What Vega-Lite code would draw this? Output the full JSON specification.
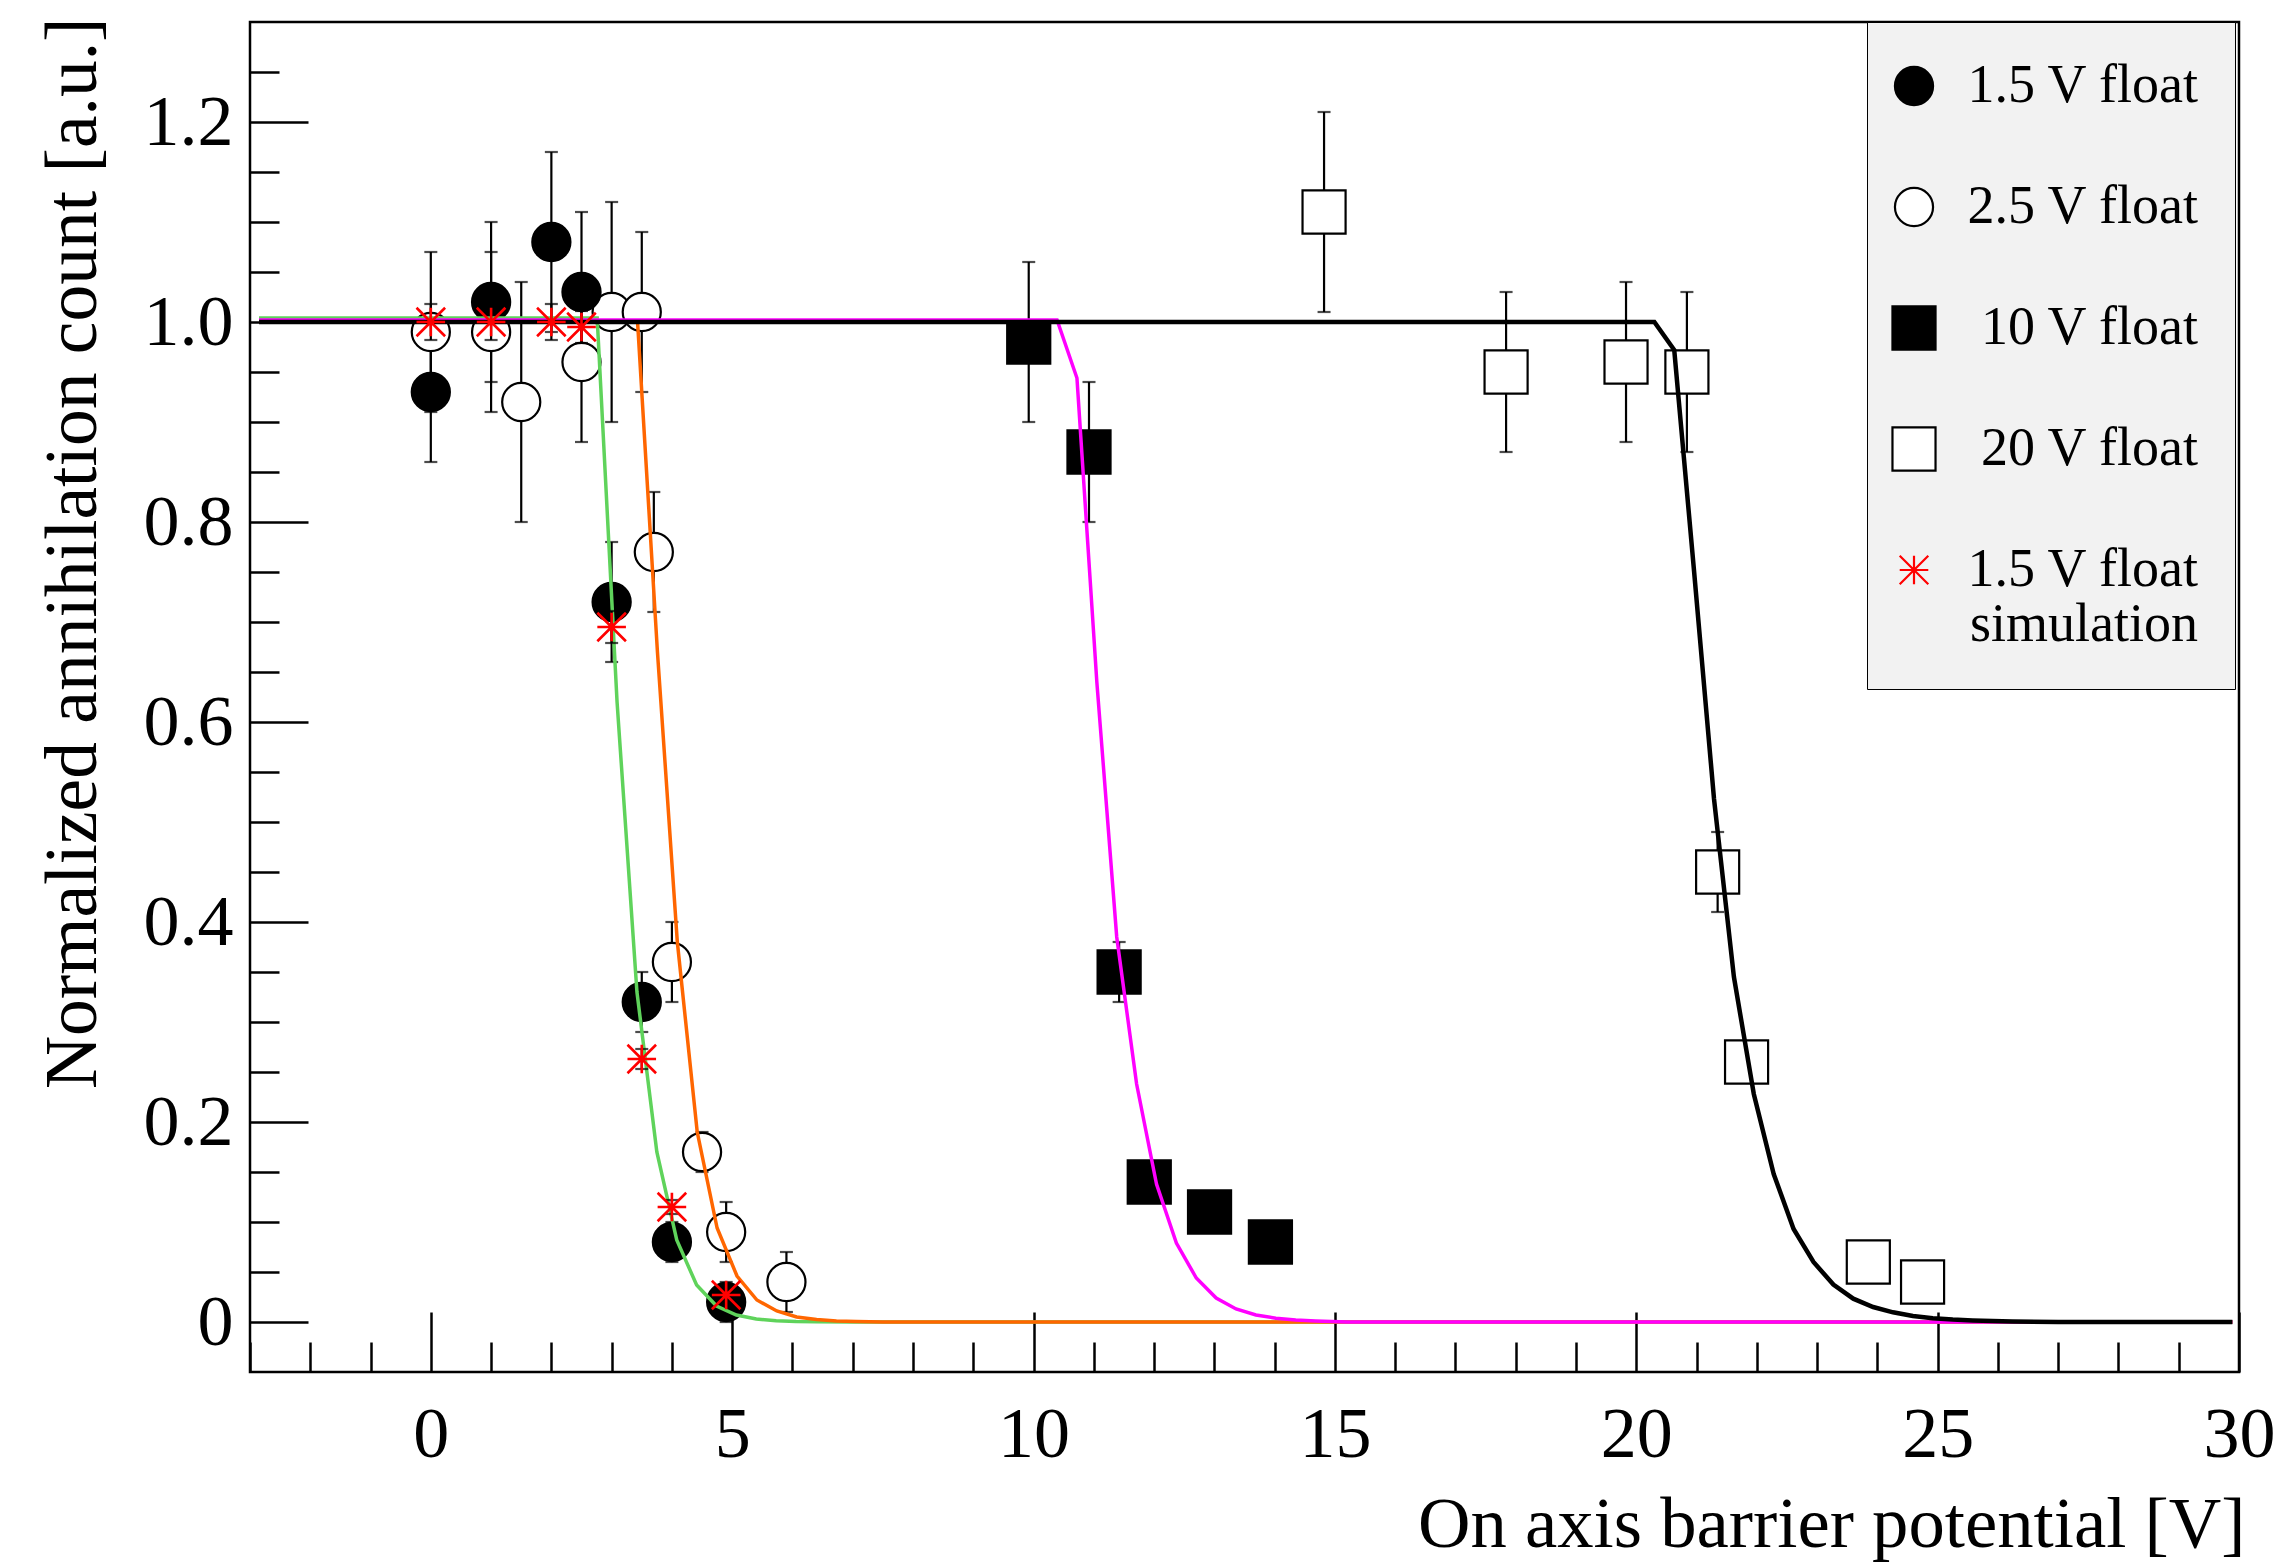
{
  "$schema": "https://vega.github.io/schema/vega-lite/v6.json",
  "width": 1989,
  "height": 1350,
  "autosize": {"type": "none"},
  "padding": {"left": 250, "top": 22, "right": 45, "bottom": 194},
  "background": "white",
  "config": {
    "view": {"stroke": "black", "strokeWidth": 2.5},
    "font": "Liberation Serif",
    "axis": {
      "grid": false, "domain": false,
      "labelFont": "Liberation Serif", "labelFontSize": 72, "labelColor": "black",
      "titleFont": "Liberation Serif", "titleFontSize": 73.5, "titleFontWeight": "normal", "titleColor": "black",
      "tickColor": "black", "tickWidth": 2.5, "labelOverlap": false, "labelFlush": false, "labelBound": false
    },
    "legend": {
      "orient": "none", "legendX": 1617, "legendY": 0, "title": null,
      "fillColor": "#f2f2f2", "strokeColor": "black", "padding": 37,
      "labelFont": "Liberation Serif", "labelFontSize": 54, "labelColor": "black",
      "labelAlign": "right", "labelOffset": 257, "symbolOffset": -17,
      "rowPadding": 67, "symbolSize": 1452, "symbolStrokeWidth": 2.2, "labelLimit": 600
    },
    "style": {"guide-label": {"lineHeight": 55}}
  },
  "datasets": {
    "pts": [
      {"s": "2.5 V float", "x": 0, "y": 0.99, "lo": 0.91, "hi": 1.07},
      {"s": "2.5 V float", "x": 1, "y": 0.99, "lo": 0.91, "hi": 1.07},
      {"s": "2.5 V float", "x": 1.5, "y": 0.92, "lo": 0.80, "hi": 1.04},
      {"s": "2.5 V float", "x": 2.5, "y": 0.96, "lo": 0.88, "hi": 1.04},
      {"s": "2.5 V float", "x": 3, "y": 1.01, "lo": 0.90, "hi": 1.12},
      {"s": "2.5 V float", "x": 3.5, "y": 1.01, "lo": 0.93, "hi": 1.09},
      {"s": "2.5 V float", "x": 3.7, "y": 0.77, "lo": 0.71, "hi": 0.83},
      {"s": "2.5 V float", "x": 4, "y": 0.36, "lo": 0.32, "hi": 0.40},
      {"s": "2.5 V float", "x": 4.5, "y": 0.17, "lo": 0.15, "hi": 0.19},
      {"s": "2.5 V float", "x": 4.9, "y": 0.09, "lo": 0.06, "hi": 0.12},
      {"s": "2.5 V float", "x": 5.9, "y": 0.04, "lo": 0.01, "hi": 0.07},
      {"s": "20 V float", "x": 14.82, "y": 1.11, "lo": 1.01, "hi": 1.21},
      {"s": "20 V float", "x": 17.84, "y": 0.95, "lo": 0.87, "hi": 1.03},
      {"s": "20 V float", "x": 19.83, "y": 0.96, "lo": 0.88, "hi": 1.04},
      {"s": "20 V float", "x": 20.84, "y": 0.95, "lo": 0.87, "hi": 1.03},
      {"s": "20 V float", "x": 21.35, "y": 0.45, "lo": 0.41, "hi": 0.49},
      {"s": "20 V float", "x": 21.83, "y": 0.26, "lo": 0.25, "hi": 0.27},
      {"s": "20 V float", "x": 23.85, "y": 0.06, "lo": 0.05, "hi": 0.07},
      {"s": "20 V float", "x": 24.75, "y": 0.04, "lo": 0.03, "hi": 0.05},
      {"s": "1.5 V float", "x": 0, "y": 0.93, "lo": 0.86, "hi": 1.00},
      {"s": "1.5 V float", "x": 1, "y": 1.02, "lo": 0.94, "hi": 1.10},
      {"s": "1.5 V float", "x": 2, "y": 1.08, "lo": 0.99, "hi": 1.17},
      {"s": "1.5 V float", "x": 2.5, "y": 1.03, "lo": 0.95, "hi": 1.11},
      {"s": "1.5 V float", "x": 3, "y": 0.72, "lo": 0.66, "hi": 0.78},
      {"s": "1.5 V float", "x": 3.5, "y": 0.32, "lo": 0.29, "hi": 0.35},
      {"s": "1.5 V float", "x": 4, "y": 0.08, "lo": 0.06, "hi": 0.10},
      {"s": "1.5 V float", "x": 4.9, "y": 0.02, "lo": 0.00, "hi": 0.04},
      {"s": "10 V float", "x": 9.92, "y": 0.98, "lo": 0.90, "hi": 1.06},
      {"s": "10 V float", "x": 10.92, "y": 0.87, "lo": 0.80, "hi": 0.94},
      {"s": "10 V float", "x": 11.42, "y": 0.35, "lo": 0.32, "hi": 0.38},
      {"s": "10 V float", "x": 11.92, "y": 0.14, "lo": 0.13, "hi": 0.15},
      {"s": "10 V float", "x": 12.92, "y": 0.11, "lo": 0.10, "hi": 0.12},
      {"s": "10 V float", "x": 13.93, "y": 0.08, "lo": 0.07, "hi": 0.09},
      {"s": "1.5 V float simulation", "x": 0, "y": 1.0, "lo": 0.982, "hi": 1.018},
      {"s": "1.5 V float simulation", "x": 1, "y": 1.0, "lo": 0.982, "hi": 1.018},
      {"s": "1.5 V float simulation", "x": 2, "y": 1.0, "lo": 0.982, "hi": 1.018},
      {"s": "1.5 V float simulation", "x": 2.5, "y": 0.995, "lo": 0.979, "hi": 1.011},
      {"s": "1.5 V float simulation", "x": 3, "y": 0.695, "lo": 0.679, "hi": 0.711},
      {"s": "1.5 V float simulation", "x": 3.5, "y": 0.263, "lo": 0.253, "hi": 0.273},
      {"s": "1.5 V float simulation", "x": 4, "y": 0.115, "lo": 0.108, "hi": 0.122},
      {"s": "1.5 V float simulation", "x": 4.9, "y": 0.027, "lo": 0.02, "hi": 0.034}
    ],
    "curves": [
      {"c": "g", "x": -2.85, "y": 1.004}, {"c": "g", "x": 2.76, "y": 1.004}, {"c": "g", "x": 3.09, "y": 0.62},
      {"c": "g", "x": 3.42, "y": 0.33}, {"c": "g", "x": 3.75, "y": 0.17}, {"c": "g", "x": 4.08, "y": 0.082},
      {"c": "g", "x": 4.41, "y": 0.037}, {"c": "g", "x": 4.74, "y": 0.016}, {"c": "g", "x": 5.07, "y": 0.007},
      {"c": "g", "x": 5.40, "y": 0.003}, {"c": "g", "x": 5.73, "y": 0.0013}, {"c": "g", "x": 6.06, "y": 0.0005},
      {"c": "g", "x": 6.39, "y": 0.0002}, {"c": "g", "x": 7.0, "y": 0}, {"c": "g", "x": 29.89, "y": 0},
      {"c": "o", "x": -2.85, "y": 1.0}, {"c": "o", "x": 3.43, "y": 1.0}, {"c": "o", "x": 3.76, "y": 0.67},
      {"c": "o", "x": 4.09, "y": 0.38}, {"c": "o", "x": 4.42, "y": 0.19}, {"c": "o", "x": 4.75, "y": 0.094},
      {"c": "o", "x": 5.08, "y": 0.046}, {"c": "o", "x": 5.41, "y": 0.022}, {"c": "o", "x": 5.74, "y": 0.011},
      {"c": "o", "x": 6.07, "y": 0.005}, {"c": "o", "x": 6.40, "y": 0.0024}, {"c": "o", "x": 6.73, "y": 0.0011},
      {"c": "o", "x": 7.06, "y": 0.0005}, {"c": "o", "x": 7.5, "y": 0}, {"c": "o", "x": 29.89, "y": 0},
      {"c": "m", "x": -2.85, "y": 1.002}, {"c": "m", "x": 10.39, "y": 1.002}, {"c": "m", "x": 10.72, "y": 0.944},
      {"c": "m", "x": 11.05, "y": 0.64}, {"c": "m", "x": 11.38, "y": 0.385}, {"c": "m", "x": 11.71, "y": 0.238},
      {"c": "m", "x": 12.04, "y": 0.138}, {"c": "m", "x": 12.37, "y": 0.079}, {"c": "m", "x": 12.70, "y": 0.044},
      {"c": "m", "x": 13.03, "y": 0.024}, {"c": "m", "x": 13.36, "y": 0.013}, {"c": "m", "x": 13.69, "y": 0.007},
      {"c": "m", "x": 14.02, "y": 0.0038}, {"c": "m", "x": 14.35, "y": 0.002}, {"c": "m", "x": 14.68, "y": 0.001},
      {"c": "m", "x": 15.2, "y": 0}, {"c": "m", "x": 29.89, "y": 0},
      {"c": "k", "x": -2.85, "y": 1.0}, {"c": "k", "x": 20.30, "y": 1.0}, {"c": "k", "x": 20.63, "y": 0.972},
      {"c": "k", "x": 20.96, "y": 0.75}, {"c": "k", "x": 21.29, "y": 0.523}, {"c": "k", "x": 21.62, "y": 0.345},
      {"c": "k", "x": 21.95, "y": 0.228}, {"c": "k", "x": 22.28, "y": 0.148}, {"c": "k", "x": 22.61, "y": 0.093},
      {"c": "k", "x": 22.94, "y": 0.06}, {"c": "k", "x": 23.27, "y": 0.0375}, {"c": "k", "x": 23.60, "y": 0.0233},
      {"c": "k", "x": 23.93, "y": 0.015}, {"c": "k", "x": 24.26, "y": 0.0097}, {"c": "k", "x": 24.59, "y": 0.006},
      {"c": "k", "x": 24.92, "y": 0.0038}, {"c": "k", "x": 25.25, "y": 0.0024}, {"c": "k", "x": 25.58, "y": 0.0015},
      {"c": "k", "x": 25.91, "y": 0.0009}, {"c": "k", "x": 26.24, "y": 0.0005}, {"c": "k", "x": 27.0, "y": 0},
      {"c": "k", "x": 29.89, "y": 0}
    ]
  },
  "encoding": {
    "x": {
      "field": "x", "type": "quantitative", "title": "On axis barrier potential [V]",
      "scale": {"domain": [-3, 30], "nice": false, "zero": false},
      "axis": {
        "values": [-3,-2,-1,0,1,2,3,4,5,6,7,8,9,10,11,12,13,14,15,16,17,18,19,20,21,22,23,24,25,26,27,28,29,30],
        "labelExpr": "datum.value % 5 === 0 ? format(datum.value, 'd') : ''",
        "tickSize": {"condition": {"test": "datum.value % 5 === 0", "value": -60}, "value": -30},
        "labelPadding": 87,
        "titleFontSize": 72.7,
        "titleAlign": "right", "titleAnchor": "end", "titleBaseline": "alphabetic",
        "titleX": 1995, "titleY": 174
      }
    },
    "y": {
      "field": "y", "type": "quantitative", "title": "Normalized annihilation count [a.u.]",
      "scale": {"domain": [-0.05, 1.3], "nice": false, "zero": false},
      "axis": {
        "values": [0,0.05,0.1,0.15,0.2,0.25,0.3,0.35,0.4,0.45,0.5,0.55,0.6,0.65,0.7,0.75,0.8,0.85,0.9,0.95,1,1.05,1.1,1.15,1.2,1.25],
        "labelExpr": "round(datum.value*20) % 4 === 0 ? (round(datum.value*20) === 0 ? '0' : format(datum.value, '.1f')) : ''",
        "tickSize": {"condition": {"test": "round(datum.value*20) % 4 === 0", "value": -58}, "value": -29},
        "labelPadding": 75,
        "titleAlign": "right", "titleAnchor": "end", "titleBaseline": "alphabetic", "titleAngle": 270,
        "titleX": -155, "titleY": -5
      }
    }
  },
  "layer": [
    {
      "data": {"name": "pts"},
      "transform": [{"filter": "datum.s !== '1.5 V float simulation'"}],
      "mark": {"type": "errorbar", "ticks": true, "size": 13, "thickness": 2.2, "color": "black"},
      "encoding": {
        "y": {"field": "lo", "type": "quantitative", "title": "Normalized annihilation count [a.u.]", "scale": {"domain": [-0.05, 1.3], "nice": false, "zero": false}},
        "y2": {"field": "hi"}
      }
    },
    {
      "data": {"name": "pts"},
      "transform": [{"filter": "datum.s !== '1.5 V float simulation'"}],
      "mark": {"type": "point", "opacity": 1, "strokeWidth": 2.2, "size": 1452},
      "encoding": {
        "shape": {
          "field": "s", "type": "nominal",
          "scale": {"domain": ["1.5 V float", "2.5 V float", "10 V float", "20 V float", "1.5 V float simulation"],
                    "range": ["circle", "circle", "M-1.13,-1.13H1.13V1.13H-1.13Z", "M-1.13,-1.13H1.13V1.13H-1.13Z", "M-0.75,0H0.75M0,-0.75V0.75M-0.75,-0.75L0.75,0.75M-0.75,0.75L0.75,-0.75"]},
          "legend": {
            "labelExpr": "datum.label === '1.5 V float simulation' ? ['1.5 V float', 'simulation'] : datum.label",
            "encode": {
              "symbols": {"fill": {"value": {"expr": "datum.value === '1.5 V float' || datum.value === '10 V float' ? 'black' : 'transparent'"}}},
              "labels": {"dy": {"value": {"expr": "datum.value === '1.5 V float simulation' ? -27.5 : 0"}}}
            }
          }
        },
        "fill": {
          "field": "s", "type": "nominal",
          "scale": {"domain": ["1.5 V float", "2.5 V float", "10 V float", "20 V float", "1.5 V float simulation"],
                    "range": ["black", "white", "black", "white", "transparent"]},
          "legend": {
            "labelExpr": "datum.label === '1.5 V float simulation' ? ['1.5 V float', 'simulation'] : datum.label",
            "encode": {
              "symbols": {"fill": {"value": {"expr": "datum.value === '1.5 V float' || datum.value === '10 V float' ? 'black' : 'transparent'"}}},
              "labels": {"dy": {"value": {"expr": "datum.value === '1.5 V float simulation' ? -27.5 : 0"}}}
            }
          }
        },
        "stroke": {
          "field": "s", "type": "nominal",
          "scale": {"domain": ["1.5 V float", "2.5 V float", "10 V float", "20 V float", "1.5 V float simulation"],
                    "range": ["black", "black", "black", "black", "red"]},
          "legend": {
            "labelExpr": "datum.label === '1.5 V float simulation' ? ['1.5 V float', 'simulation'] : datum.label",
            "encode": {
              "symbols": {"fill": {"value": {"expr": "datum.value === '1.5 V float' || datum.value === '10 V float' ? 'black' : 'transparent'"}}},
              "labels": {"dy": {"value": {"expr": "datum.value === '1.5 V float simulation' ? -27.5 : 0"}}}
            }
          }
        }
      }
    },
    {
      "data": {"name": "curves"},
      "mark": {"type": "line", "clip": true},
      "encoding": {
        "color": {"field": "c", "type": "nominal", "scale": {"domain": ["g", "o", "m", "k"], "range": ["#5fd35b", "#ff6600", "#ff00ff", "black"]}, "legend": null},
        "strokeWidth": {"field": "c", "type": "nominal", "scale": {"type": "ordinal", "domain": ["g", "o", "m", "k"], "range": [3.5, 3.5, 3.5, 4.5]}, "legend": null}
      }
    },
    {
      "data": {"name": "pts"},
      "transform": [{"filter": "datum.s === '1.5 V float simulation'"}],
      "mark": {"type": "errorbar", "ticks": true, "size": 13, "thickness": 2.2, "color": "black"},
      "encoding": {
        "y": {"field": "lo", "type": "quantitative", "title": "Normalized annihilation count [a.u.]", "scale": {"domain": [-0.05, 1.3], "nice": false, "zero": false}},
        "y2": {"field": "hi"}
      }
    },
    {
      "data": {"name": "pts"},
      "transform": [{"filter": "datum.s === '1.5 V float simulation'"}],
      "mark": {"type": "point", "opacity": 1, "strokeWidth": 2.6, "size": 1452},
      "encoding": {
        "shape": {
          "field": "s", "type": "nominal",
          "scale": {"domain": ["1.5 V float", "2.5 V float", "10 V float", "20 V float", "1.5 V float simulation"],
                    "range": ["circle", "circle", "M-1.13,-1.13H1.13V1.13H-1.13Z", "M-1.13,-1.13H1.13V1.13H-1.13Z", "M-0.75,0H0.75M0,-0.75V0.75M-0.75,-0.75L0.75,0.75M-0.75,0.75L0.75,-0.75"]},
          "legend": {
            "labelExpr": "datum.label === '1.5 V float simulation' ? ['1.5 V float', 'simulation'] : datum.label",
            "encode": {
              "symbols": {"fill": {"value": {"expr": "datum.value === '1.5 V float' || datum.value === '10 V float' ? 'black' : 'transparent'"}}},
              "labels": {"dy": {"value": {"expr": "datum.value === '1.5 V float simulation' ? -27.5 : 0"}}}
            }
          }
        },
        "fill": {
          "field": "s", "type": "nominal",
          "scale": {"domain": ["1.5 V float", "2.5 V float", "10 V float", "20 V float", "1.5 V float simulation"],
                    "range": ["black", "white", "black", "white", "transparent"]},
          "legend": {
            "labelExpr": "datum.label === '1.5 V float simulation' ? ['1.5 V float', 'simulation'] : datum.label",
            "encode": {
              "symbols": {"fill": {"value": {"expr": "datum.value === '1.5 V float' || datum.value === '10 V float' ? 'black' : 'transparent'"}}},
              "labels": {"dy": {"value": {"expr": "datum.value === '1.5 V float simulation' ? -27.5 : 0"}}}
            }
          }
        },
        "stroke": {
          "field": "s", "type": "nominal",
          "scale": {"domain": ["1.5 V float", "2.5 V float", "10 V float", "20 V float", "1.5 V float simulation"],
                    "range": ["black", "black", "black", "black", "red"]},
          "legend": {
            "labelExpr": "datum.label === '1.5 V float simulation' ? ['1.5 V float', 'simulation'] : datum.label",
            "encode": {
              "symbols": {"fill": {"value": {"expr": "datum.value === '1.5 V float' || datum.value === '10 V float' ? 'black' : 'transparent'"}}},
              "labels": {"dy": {"value": {"expr": "datum.value === '1.5 V float simulation' ? -27.5 : 0"}}}
            }
          }
        }
      }
    }
  ]
}
